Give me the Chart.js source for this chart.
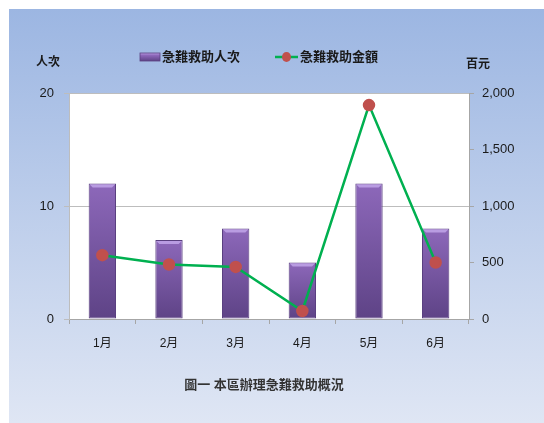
<!DOCTYPE html>
<html>
<head>
<meta charset="utf-8">
<script src="https://cdn.jsdelivr.net/npm/chart.js@4.4.1/dist/chart.umd.min.js"></script>
<style>
  html, body { margin: 0; padding: 0; background: #fff; }
  #wrap { width: 544px; height: 423px; }
</style>
</head>
<body>
<div id="wrap"><canvas id="c" width="544" height="423"></canvas></div>
<script>
// data
const months = ['1月', '2月', '3月', '4月', '5月', '6月'];
const personCounts = [12, 7, 8, 5, 12, 8];       // 急難救助人次 (left axis)
const reliefAmounts = [565, 482, 461, 71, 1893, 500]; // 急難救助金額, 百元 (right axis)

const barLabel = '急難救助人次';
const lineLabel = '急難救助金額';
const leftTitle = '人次';
const rightTitle = '百元';
const caption = '圖一 本區辦理急難救助概況';

const cjk = '"Liberation Sans", "Noto Sans CJK TC", sans-serif';
Chart.defaults.font.family = cjk;
Chart.defaults.color = '#222';

function barFill(ctx) {
    const chart = ctx.chart;
    const y = chart.scales.y;
    if (!y || ctx.raw == null) return '#7152a0';
    const top = y.getPixelForValue(ctx.raw);
    const bottom = y.getPixelForValue(0);
    if (!isFinite(top) || !isFinite(bottom) || top === bottom) return '#7152a0';
    const g = chart.ctx.createLinearGradient(0, top, 0, bottom);
    g.addColorStop(0, '#8d68ba');
    g.addColorStop(1, '#5e4386');
    return g;
}

// panel background, white plot area, bar bevel, legend and texts
const decor = {
    id: 'decor',
    beforeDraw(chart) {
        const c = chart.ctx;
        const a = chart.chartArea;
        c.save();
        c.fillStyle = '#fff';
        c.fillRect(0, 0, chart.width, chart.height);
        const g = c.createLinearGradient(0, 9, 0, chart.height);
        g.addColorStop(0, '#9cb6e2');
        g.addColorStop(1, '#dfe6f4');
        c.fillStyle = g;
        c.fillRect(9, 9, chart.width - 9, chart.height - 9);
        c.fillStyle = '#fff';
        c.fillRect(a.left, a.top, a.right - a.left, a.bottom - a.top);
        c.restore();
    },
    afterDatasetDraw(chart, args) {
        if (args.index !== 0) return;
        const c = chart.ctx;
        c.save();
        chart.getDatasetMeta(0).data.forEach(bar => {
            const w = bar.width;
            const x0 = bar.x - w / 2;
            c.fillStyle = '#b99ce2';
            c.beginPath();
            c.moveTo(x0 + 1, bar.y + 1);
            c.lineTo(x0 + w - 1, bar.y + 1);
            c.lineTo(x0 + w - 4, bar.y + 4);
            c.lineTo(x0 + 4, bar.y + 4);
            c.closePath();
            c.fill();
        });
        c.restore();
    },
    afterDraw(chart) {
        const c = chart.ctx;
        c.save();
        c.fillStyle = '#1a1a1a';
        c.textBaseline = 'middle';
        c.font = 'bold 12px ' + cjk;
        c.textAlign = 'left';
        c.fillText(leftTitle, 36, 63);
        c.fillText(rightTitle, 466, 65);

        // legend
        const bg = c.createLinearGradient(0, 53, 0, 61);
        bg.addColorStop(0, '#b99ce2');
        bg.addColorStop(0.3, '#8d68ba');
        bg.addColorStop(1, '#5e4386');
        c.fillStyle = bg;
        c.fillRect(140, 53, 20, 8);
        c.strokeStyle = '#5a4080';
        c.lineWidth = 0.8;
        c.strokeRect(140, 53, 20, 8);
        c.font = 'bold 13px ' + cjk;
        c.fillStyle = '#1a1a1a';
        c.fillText(barLabel, 162, 57);
        c.strokeStyle = '#00b050';
        c.lineWidth = 2.5;
        c.beginPath();
        c.moveTo(275, 57);
        c.lineTo(298, 57);
        c.stroke();
        c.fillStyle = '#c0504d';
        c.beginPath();
        c.ellipse(286.5, 57, 4.5, 5, 0, 0, Math.PI * 2);
        c.fill();
        c.fillStyle = '#1a1a1a';
        c.fillText(lineLabel, 300, 57);

        // caption
        c.textAlign = 'center';
        c.font = 'bold 13px ' + cjk;
        c.fillStyle = '#333';
        c.fillText(caption, 264, 385);
        c.restore();
    }
};

new Chart(document.getElementById('c'), {
    data: {
        labels: months,
        datasets: [
            {
                type: 'bar',
                label: barLabel,
                data: personCounts,
                yAxisID: 'y',
                backgroundColor: barFill,
                borderColor: '#5a4080',
                borderWidth: 1,
                borderSkipped: false,
                barPercentage: 0.41,
                categoryPercentage: 1,
                order: 1
            },
            {
                type: 'line',
                label: lineLabel,
                data: reliefAmounts,
                yAxisID: 'y1',
                borderColor: '#00b050',
                borderWidth: 2.5,
                pointBackgroundColor: '#c0504d',
                pointBorderColor: '#c0504d',
                pointRadius: 5,
                pointHoverRadius: 5,
                tension: 0,
                order: 0
            }
        ]
    },
    options: {
        responsive: false,
        animation: false,
        events: [],
        layout: { padding: { left: 0, right: 0, top: 93, bottom: 0 } },
        plugins: {
            legend: { display: false },
            title: { display: false },
            tooltip: { enabled: false }
        },
        scales: {
            x: {
                offset: true,
                grid: {
                    offset: true,
                    drawOnChartArea: false,
                    color: '#a6a6a6',
                    tickLength: 5
                },
                border: { color: '#a6a6a6' },
                ticks: { padding: 12, color: '#1a1a1a', font: { size: 12 } },
                afterFit(s) { s.height = 104; }
            },
            y: {
                position: 'left',
                min: 0,
                max: 20,
                ticks: { stepSize: 10, padding: 10, color: '#1a1a1a', font: { size: 13 } },
                grid: { color: '#bdbdbd', tickLength: 5 },
                border: { color: '#bdbdbd' },
                afterFit(s) { s.width = 69; }
            },
            y1: {
                position: 'right',
                min: 0,
                max: 2000,
                ticks: {
                    stepSize: 500,
                    padding: 8,
                    color: '#1a1a1a',
                    font: { size: 13 },
                    callback: v => v.toLocaleString('en-US')
                },
                grid: { drawOnChartArea: false, color: '#a6a6a6', tickLength: 5 },
                border: { color: '#a6a6a6' },
                afterFit(s) { s.width = 75; }
            }
        }
    },
    plugins: [decor]
});
</script>
</body>
</html>
